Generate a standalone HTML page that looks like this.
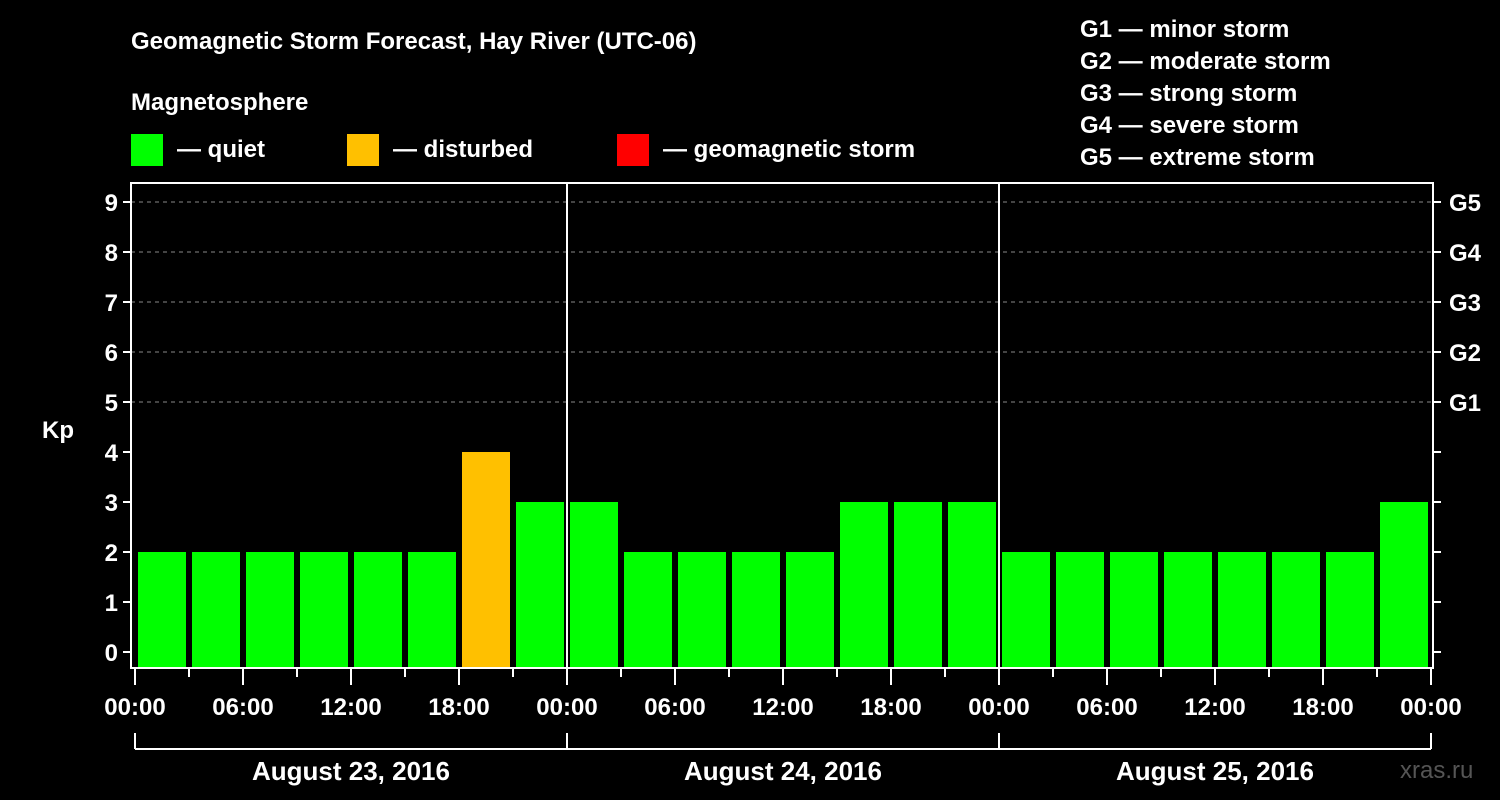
<!DOCTYPE html>
<html><head><meta charset="utf-8"><style>
body{margin:0;background:#000;}
svg{display:block;font-family:"Liberation Sans",Arial,sans-serif;font-weight:bold;}
</style></head><body>
<svg id="c" width="1500" height="800" viewBox="0 0 1500 800">
<rect x="0" y="0" width="1500" height="800" fill="#000"/>
<text x="131" y="49" font-size="24" fill="#fff">Geomagnetic Storm Forecast, Hay River (UTC-06)</text>
<text x="131" y="110" font-size="24" fill="#fff">Magnetosphere</text>
<g><rect x="131" y="134" width="32" height="32" fill="#00ff00"/><text x="177" y="157" font-size="24" fill="#fff">— quiet</text></g>
<g><rect x="347" y="134" width="32" height="32" fill="#ffc000"/><text x="393" y="157" font-size="24" fill="#fff">— disturbed</text></g>
<g><rect x="617" y="134" width="32" height="32" fill="#ff0000"/><text x="663" y="157" font-size="24" fill="#fff">— geomagnetic storm</text></g>
<g font-size="24" fill="#fff">
<text x="1080" y="37">G1 — minor storm</text>
<text x="1080" y="69">G2 — moderate storm</text>
<text x="1080" y="101">G3 — strong storm</text>
<text x="1080" y="133">G4 — severe storm</text>
<text x="1080" y="165">G5 — extreme storm</text>
</g>
<text x="42" y="438" font-size="24" fill="#fff">Kp</text>
<text x="1400" y="778" font-size="24" fill="#555" font-weight="normal">xras.ru</text>
<g id="plot"></g>
</svg>
<script>
const kpValues=[2,2,2,2,2,2,4,3, 3,2,2,2,2,3,3,3, 2,2,2,2,2,2,2,3];
const dayLabels=["August 23, 2016","August 24, 2016","August 25, 2016"];
const hourLabels=["00:00","06:00","12:00","18:00"];
const yTickLabels=["0","1","2","3","4","5","6","7","8","9"];
const gLabels=["G1","G2","G3","G4","G5"];
const NS="http://www.w3.org/2000/svg";
const g=document.getElementById('plot');
const L=131,R=1433,T=183,B=668,X0=135,DAY=432;
const xh=h=>X0+h*DAY/24;
const yk=v=>652-v*50;
function mk(t,a,p){const e=document.createElementNS(NS,t);for(const k in a)e.setAttribute(k,a[k]);(p||g).appendChild(e);return e;}
// gridlines
for(let v=5;v<=9;v++){
 const l=mk('line',{x1:L,x2:R,y1:yk(v),y2:yk(v),stroke:'#888','stroke-dasharray':'4,4','stroke-width':1});
 
 
}
// bars
kpValues.forEach((v,i)=>{
 const col=v>=5?'#ff0000':(v>=4?'#ffc000':'#00ff00');
 const r=mk('rect',{x:xh(i*3)+3,y:yk(v),width:48,height:B-yk(v),fill:col});
 
 
});
// day separators
for(let d=1;d<dayLabels.length;d++){
 const l=mk('line',{x1:xh(d*24),x2:xh(d*24),y1:T,y2:B,stroke:'#fff','stroke-width':2});
 
 
}
// frame
const f=mk('rect',{x:L,y:T,width:R-L,height:B-T,fill:'none',stroke:'#fff','stroke-width':2});


// y ticks
yTickLabels.forEach((s,v)=>{
 mk('line',{x1:L-8,x2:L,y1:yk(v),y2:yk(v),stroke:'#fff','stroke-width':2});
 mk('line',{x1:R,x2:R+8,y1:yk(v),y2:yk(v),stroke:'#fff','stroke-width':2});
 const t=mk('text',{x:L-13,y:yk(v)+9,'font-size':24,fill:'#fff','text-anchor':'end'});
 t.textContent=s;
 
 
});
gLabels.forEach((s,i)=>{
 const t=mk('text',{x:R+16,y:yk(i+5)+9,'font-size':24,fill:'#fff'});
 t.textContent=s;
 
 
});
// x ticks
for(let h=0;h<=24*dayLabels.length;h+=3){
 const major=h%6===0;
 mk('line',{x1:xh(h),x2:xh(h),y1:B,y2:major?B+17:B+9,stroke:'#fff','stroke-width':2});
 if(major){
  const t=mk('text',{x:xh(h),y:715,'font-size':24,fill:'#fff','text-anchor':'middle'});
  t.textContent=hourLabels[(h%24)/6];
  
  
 }
}
// day brackets
mk('line',{x1:xh(0),x2:xh(24*dayLabels.length),y1:749,y2:749,stroke:'#fff','stroke-width':2});
for(let d=0;d<=dayLabels.length;d++) mk('line',{x1:xh(d*24),x2:xh(d*24),y1:733,y2:749,stroke:'#fff','stroke-width':2});
dayLabels.forEach((s,d)=>{
 const t=mk('text',{x:xh(d*24+12),y:780,'font-size':26,fill:'#fff','text-anchor':'middle'});
 t.textContent=s;
 
 
});
</script>
</body></html>
